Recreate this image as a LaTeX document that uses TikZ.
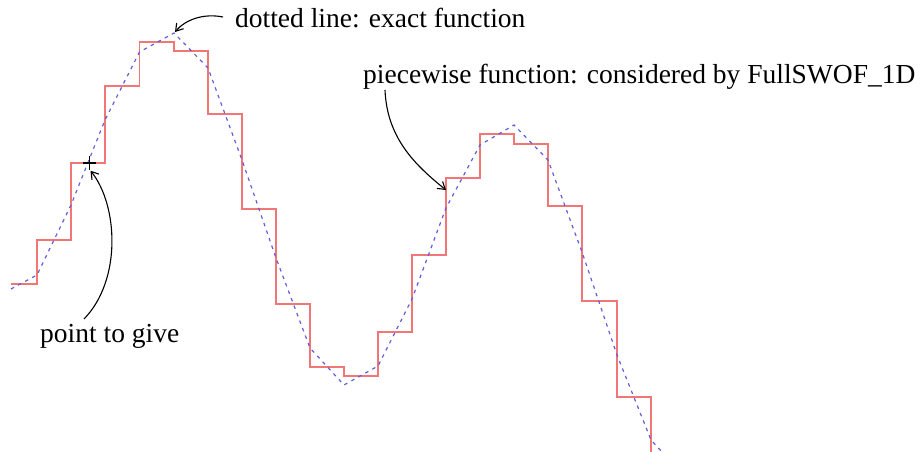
\documentclass[tikz,border=0pt]{standalone}
\usepackage{fontspec}
\setmainfont{Liberation Serif}
\usetikzlibrary{arrows.meta,calc}
\definecolor{stepred}{RGB}{242,118,118}
\definecolor{exactblue}{RGB}{95,95,220}
\begin{document}
\begin{tikzpicture}[x=1pt,y=-1pt,
  stepline/.style={draw=stepred, line width=1.4pt},
  exactline/.style={draw=exactblue, line width=1.2pt, dash pattern=on 3.5pt off 4.5pt},
  label/.style={font=\fontsize{27.5}{33}\selectfont, inner sep=0.3333em},
  pointer/.style={draw=black, line width=1.1pt, -{Straight Barb[length=7pt,width=9pt]}},
  plusmark/.style={draw=black, line width=1.8pt}
]
\useasboundingbox (0,0) rectangle (921,452);

% piecewise (cell averaged) function
\draw[stepline] (11,284) -- (37,284) -- (37,240) -- (71,240) -- (71,163) -- (105,163)
  -- (105,86) -- (139.5,86) -- (139.5,42) -- (174,42) -- (174,51) -- (208,51)
  -- (208,114) -- (242,114) -- (242,209) -- (276,209) -- (276,304) -- (310,304)
  -- (310,367) -- (344,367) -- (344,376) -- (378,376) -- (378,332) -- (412,332)
  -- (412,255) -- (446,255) -- (446,178) -- (480,178) -- (480,134) -- (514,134)
  -- (514,144) -- (548,144) -- (548,206) -- (582,206) -- (582,301) -- (617,301)
  -- (617,397) -- (651,397) -- (651,452);

% exact function
\draw[exactline] (11,289) -- (37,275) -- (71,205) -- (105,120) -- (139.5,52)
  -- (174,33) -- (208,68) -- (242,160) -- (276,258) -- (310,348) -- (344,385)
  -- (378,366) -- (412,299) -- (446,208) -- (480,145) -- (514,125) -- (548,160)
  -- (582,252) -- (617,355) -- (651,440) -- (662,452);

% named points
\coordinate (peak) at (174,33);
\coordinate (stepedge) at (446,190);
\node[inner sep=0, minimum size=13pt] (pt) at (89.5,163) {};
\draw[plusmark] (pt.west) -- (pt.east);
\draw[plusmark] (pt.north) -- (pt.south);

% labels
\node[label, anchor=base west, inner sep=0] (dt) at (235,28) {dotted line: exact function};
\node[label, anchor=base west, inner sep=0] (pw) at (363,83) {piecewise function: considered by FullSWOF\_1D};
\node[label, anchor=base west, inner sep=0] (pg) at (40,342) {point to give};

% pointers
\draw[pointer] ($(dt.base west)+(-12,-11)$) .. controls ($(dt.base west)+(-32,-15)$) and ($(dt.base west)+(-50,-8)$) .. ($(peak)+(1,-1)$);
\draw[pointer] ($(pw.base west)+(22,7)$) .. controls ($(pw.base west)+(24,55)$) and ($(pw.base west)+(52,82)$) .. (stepedge);
\draw[pointer] ($(pg.base west)+(44,-23)$) .. controls (122,280) and (118,205) .. ($(pt.south)+(1,1)$);
\end{tikzpicture}
\end{document}
